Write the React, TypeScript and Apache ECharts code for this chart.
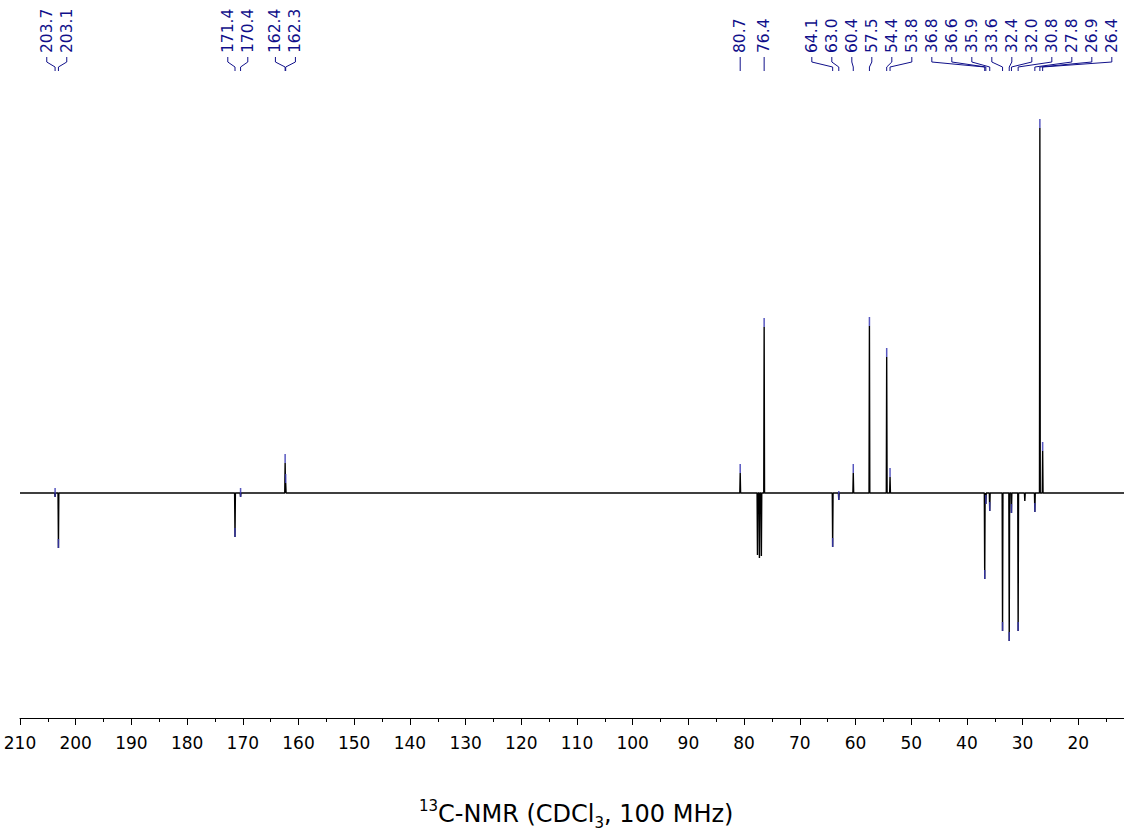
import React, { useEffect, useRef } from "react";
import * as echarts from "echarts";

// Labelled 13C shifts (ppm) and their signed intensities (a.u., + up / - down)
const SHIFTS = [203.7, 203.1, 171.4, 170.4, 162.4, 162.3, 80.7, 76.4, 64.1, 63.0, 60.4, 57.5, 54.4, 53.8, 36.8, 36.6, 35.9, 33.6, 32.4, 32.0, 30.8, 27.8, 26.9, 26.4];
const INTENSITIES = [-4, -55, -44, -4, 30, 10, 20, 166, -54, -7, 20, 167, 136, 16, -86, -11, -18, -138, -148, -20, -138, -19, 365, 42];
// Unlabelled signals (solvent triplet and a small impurity)
const OTHER_SHIFTS = [77.6, 77.25, 76.9, 29.6];
const OTHER_INTENSITIES = [-62, -65, -63, -8];
// Axis range and ticks
const PPM_MIN = 10;
const PPM_MAX = 210;
const TICK_STEP = 10;
const Y_MIN = -225;
const Y_MAX = 393;
const TITLE_TEXT = "{sup|13}{main|C-NMR (CDCl}{sub|3}{main|, 100 MHz)}";

const LABEL_COLOR = "#10108a";
const MARK_COLOR = "#3a3ab4";

function buildSpectrum(): number[][] {
  const peaks: number[][] = [];
  SHIFTS.forEach((s, i) => peaks.push([s, INTENSITIES[i]]));
  OTHER_SHIFTS.forEach((s, i) => peaks.push([s, OTHER_INTENSITIES[i]]));
  peaks.sort((a, b) => b[0] - a[0]);
  const w = 0.07;
  const pts: number[][] = [[PPM_MAX, 0]];
  peaks.forEach(([s, v]) => {
    pts.push([s + w, 0]);
    pts.push([s, v]);
    pts.push([s - w, 0]);
  });
  pts.push([PPM_MIN, 0]);
  return pts;
}

// Cluster neighbouring peaks, centre each cluster's labels on it, then push overlaps right.
function spread(xs: number[], gap: number, lo: number, hi: number): number[] {
  const order = xs.map((_, i) => i).sort((a, b) => xs[a] - xs[b]);
  const clusters: number[][] = [];
  order.forEach((id, k) => {
    if (k > 0 && xs[id] - xs[order[k - 1]] < gap) clusters[clusters.length - 1].push(id);
    else clusters.push([id]);
  });
  const lefts = clusters.map((c) => {
    const mean = c.reduce((a, id) => a + xs[id], 0) / c.length;
    return mean - ((c.length - 1) * gap) / 2;
  });
  for (let k = 0; k < clusters.length; k++) {
    if (k === 0) lefts[k] = Math.max(lo, lefts[k]);
    else {
      const prevRight = lefts[k - 1] + (clusters[k - 1].length - 1) * gap;
      if (lefts[k] < prevRight + gap) lefts[k] = prevRight + gap;
    }
  }
  for (let k = clusters.length - 1; k >= 0; k--) {
    const limit = k === clusters.length - 1 ? hi : lefts[k + 1] - gap;
    const right = lefts[k] + (clusters[k].length - 1) * gap;
    if (right > limit) lefts[k] -= right - limit;
  }
  const out: number[] = new Array(xs.length);
  clusters.forEach((c, k) => c.forEach((id, j) => (out[id] = lefts[k] + j * gap)));
  return out;
}

export default function App() {
  const ref = useRef<HTMLDivElement>(null);
  useEffect(() => {
    if (!ref.current) return;
    const chart = echarts.init(ref.current, null, { renderer: "svg" });
    const markData = SHIFTS.map((s, i) => [s, INTENSITIES[i]]);
    chart.setOption({
      animation: false,
      backgroundColor: "#fff",
      title: {
        text: TITLE_TEXT,
        left: 414,
        top: 793,
        textStyle: {
          fontFamily: "DejaVu Sans",
          fontWeight: "normal",
          rich: {
            main: { fontSize: 24, fontFamily: "DejaVu Sans", color: "#000", lineHeight: 32 },
            sup: { fontSize: 15, fontFamily: "DejaVu Sans", color: "#000", lineHeight: 15, verticalAlign: "top" },
            sub: { fontSize: 15, fontFamily: "DejaVu Sans", color: "#000", lineHeight: 15, verticalAlign: "bottom" },
          },
        },
      },
      grid: { left: 20, width: 1114, top: 100, bottom: 112, outerBoundsMode: "none", containLabel: false },
      xAxis: {
        type: "value",
        min: PPM_MIN,
        max: PPM_MAX,
        interval: TICK_STEP,
        inverse: true,
        axisLine: { show: true, onZero: false, lineStyle: { color: "#000", width: 1 } },
        axisTick: { show: true, length: 7, lineStyle: { color: "#000" } },
        minorTick: { show: true, splitNumber: 2, length: 4, lineStyle: { color: "#000" } },
        splitLine: { show: false },
        minorSplitLine: { show: false },
        axisLabel: {
          color: "#000",
          fontSize: 17,
          fontFamily: "DejaVu Sans",
          margin: 16,
          formatter: (v: number) => (v < 15 ? "" : String(v)),
        },
      },
      yAxis: { type: "value", min: Y_MIN, max: Y_MAX, show: false, splitLine: { show: false } },
      series: [
        {
          type: "line",
          data: buildSpectrum(),
          showSymbol: false,
          symbol: "none",
          lineStyle: { color: "#000", width: 1.4 },
          z: 2,
        },
        {
          type: "custom",
          data: markData,
          z: 3,
          renderItem: (params: any, api: any) => {
            const p = api.coord([api.value(0), api.value(1)]);
            return {
              type: "line",
              shape: { x1: p[0], y1: p[1], x2: p[0], y2: p[1] - 9 },
              style: { stroke: MARK_COLOR, lineWidth: 1.5, opacity: 0.85 },
            };
          },
        },
        {
          type: "custom",
          data: [[100, 0]],
          z: 4,
          clip: false,
          renderItem: (params: any, api: any) => {
            if (params.dataIndex !== 0) return null;
            const px = SHIFTS.map((s) => api.coord([s, 0])[0]);
            const lx = spread(px, 20, 10, 1114);
            const children: any[] = [];
            SHIFTS.forEach((s, i) => {
              children.push({
                type: "text",
                x: lx[i],
                y: 53,
                rotation: Math.PI / 2,
                style: {
                  text: s.toFixed(1),
                  fill: LABEL_COLOR,
                  fontSize: 15.5,
                  fontFamily: "DejaVu Sans",
                  align: "left",
                  verticalAlign: "middle",
                },
              });
              children.push({
                type: "polyline",
                shape: { points: [[lx[i], 57], [lx[i], 62], [px[i], 67], [px[i], 71]] },
                style: { stroke: LABEL_COLOR, lineWidth: 1, fill: null },
              });
            });
            return { type: "group", children };
          },
        },
      ],
    });
    return () => chart.dispose();
  }, []);
  return <div ref={ref} style={{ position: "fixed", left: 0, top: 0, width: 1124, height: 830 }} />;
}
